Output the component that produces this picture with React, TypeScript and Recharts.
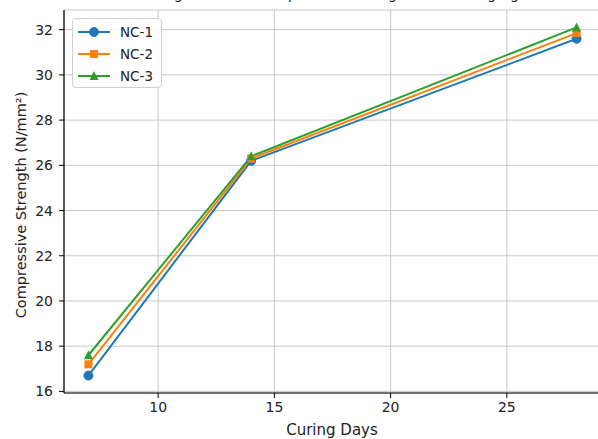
import React from "react";
import {
  LineChart,
  Line,
  XAxis,
  YAxis,
  CartesianGrid,
  Legend,
} from "recharts";

const days = [7, 14, 28];
const nc1 = [16.7, 26.2, 31.6];
const nc2 = [17.2, 26.3, 31.85];
const nc3 = [17.6, 26.4, 32.1];
const seriesNames = ["NC-1", "NC-2", "NC-3"];
const seriesColors = ["#1f77b4", "#ff7f0e", "#2ca02c"];
const xTicks = [10, 15, 20, 25];
const yTicks = [16, 18, 20, 22, 24, 26, 28, 30, 32];
const xLabel = "Curing Days";
const yLabel = "Compressive Strength (N/mm²)";
const title = "Strength Gain of Compressive Strength with Curing Age";

const data = days.map((d, i) => ({
  day: d,
  nc1: nc1[i],
  nc2: nc2[i],
  nc3: nc3[i],
}));

const FONT = "'DejaVu Sans', sans-serif";

const Circle = (props: any) => {
  const { cx, cy } = props;
  if (cx == null || cy == null) return null;
  return <circle cx={cx} cy={cy} r={4.5} fill={seriesColors[0]} stroke={seriesColors[0]} />;
};
const Square = (props: any) => {
  const { cx, cy } = props;
  if (cx == null || cy == null) return null;
  return <rect x={cx - 4} y={cy - 4} width={8} height={8} fill={seriesColors[1]} />;
};
const Triangle = (props: any) => {
  const { cx, cy } = props;
  if (cx == null || cy == null) return null;
  return (
    <polygon
      points={`${cx},${cy - 5} ${cx - 4.5},${cy + 4} ${cx + 4.5},${cy + 4}`}
      fill={seriesColors[2]}
    />
  );
};

const markerFor = (i: number, cx: number, cy: number) => {
  if (i === 0) return <Circle cx={cx} cy={cy} />;
  if (i === 1) return <Square cx={cx} cy={cy} />;
  return <Triangle cx={cx} cy={cy} />;
};

const LegendBox = () => (
  <div
    style={{
      width: 90,
      height: 70,
      border: "1px solid #d0d0d0",
      borderRadius: 4,
      background: "rgba(255,255,255,0.85)",
      boxSizing: "border-box",
      fontFamily: FONT,
      fontSize: 13.5,
      color: "#222",
      position: "relative",
    }}
  >
    {seriesNames.map((n, i) => (
      <div
        key={n}
        style={{ position: "absolute", left: 0, top: 3 + i * 22, height: 20, width: 90 }}
      >
        <svg width={40} height={20} style={{ position: "absolute", left: 4, top: 0 }}>
          <line x1={1} y1={10} x2={33} y2={10} stroke={seriesColors[i]} strokeWidth={2} />
          {markerFor(i, 17, 10)}
        </svg>
        <span style={{ position: "absolute", left: 47, top: 2, lineHeight: "16px" }}>{n}</span>
      </div>
    ))}
  </div>
);

const YLabel = () => (
  <text
    x={21}
    y={205}
    transform="rotate(-90 21 205)"
    textAnchor="middle"
    dominantBaseline="central"
    fill="#222"
    fontSize={14.5}
    fontFamily={FONT}
  >
    {yLabel}
  </text>
);

const XLabel = () => (
  <text
    x={332}
    y={430}
    textAnchor="middle"
    dominantBaseline="central"
    fill="#222"
    fontSize={15}
    fontFamily={FONT}
  >
    {xLabel}
  </text>
);

export default function App() {
  return (
    <div
      style={{
        position: "absolute",
        left: 0,
        top: 0,
        width: 598,
        height: 439,
        overflow: "hidden",
        background: "#fff",
      }}
    >
      <div
        style={{
          position: "absolute",
          top: -14,
          left: 332 - 300,
          width: 600,
          textAlign: "center",
          fontFamily: FONT,
          fontSize: 14,
          lineHeight: "16px",
          color: "#222",
        }}
      >
        {title}
      </div>
      <LineChart
        width={610}
        height={439}
        data={data}
        margin={{ top: 10, right: 9, bottom: 0, left: 0 }}
        style={{ fontFamily: FONT }}
      >
        <CartesianGrid stroke="#c8c8c8" strokeWidth={1} />
        <XAxis
          dataKey="day"
          type="number"
          domain={[5.95, 29.05]}
          ticks={xTicks}
          allowDataOverflow
          height={46}
          stroke="#000"
          tickSize={5}
          tickMargin={4}
          tick={{ fill: "#222", fontSize: 14, fontFamily: FONT }}
          axisLine={{ stroke: "#000", strokeWidth: 1.2 }}
          label={<XLabel />}
        />
        <XAxis
          xAxisId="top"
          orientation="top"
          dataKey="day"
          type="number"
          domain={[5.95, 29.05]}
          height={0}
          tick={false}
          tickLine={false}
          axisLine={{ stroke: "#000", strokeWidth: 1.2 }}
        />
        <YAxis
          type="number"
          domain={[15.93, 32.87]}
          ticks={yTicks}
          allowDataOverflow
          width={64}
          tickSize={5}
          tickMargin={6}
          stroke="#000"
          tick={{ fill: "#222", fontSize: 14, fontFamily: FONT }}
          axisLine={{ stroke: "#000", strokeWidth: 1.2 }}
          label={<YLabel />}
        />
        <Legend
          layout="vertical"
          align="center"
          verticalAlign="middle"
          wrapperStyle={{ left: 72, top: 18, width: 90 }}
          content={() => <LegendBox />}
        />
        <Line
          dataKey="nc1"
          name={seriesNames[0]}
          stroke={seriesColors[0]}
          strokeWidth={2}
          dot={<Circle />}
          activeDot={false}
          isAnimationActive={false}
        />
        <Line
          dataKey="nc2"
          name={seriesNames[1]}
          stroke={seriesColors[1]}
          strokeWidth={2}
          dot={<Square />}
          activeDot={false}
          isAnimationActive={false}
        />
        <Line
          dataKey="nc3"
          name={seriesNames[2]}
          stroke={seriesColors[2]}
          strokeWidth={2}
          dot={<Triangle />}
          activeDot={false}
          isAnimationActive={false}
        />
      </LineChart>
    </div>
  );
}
